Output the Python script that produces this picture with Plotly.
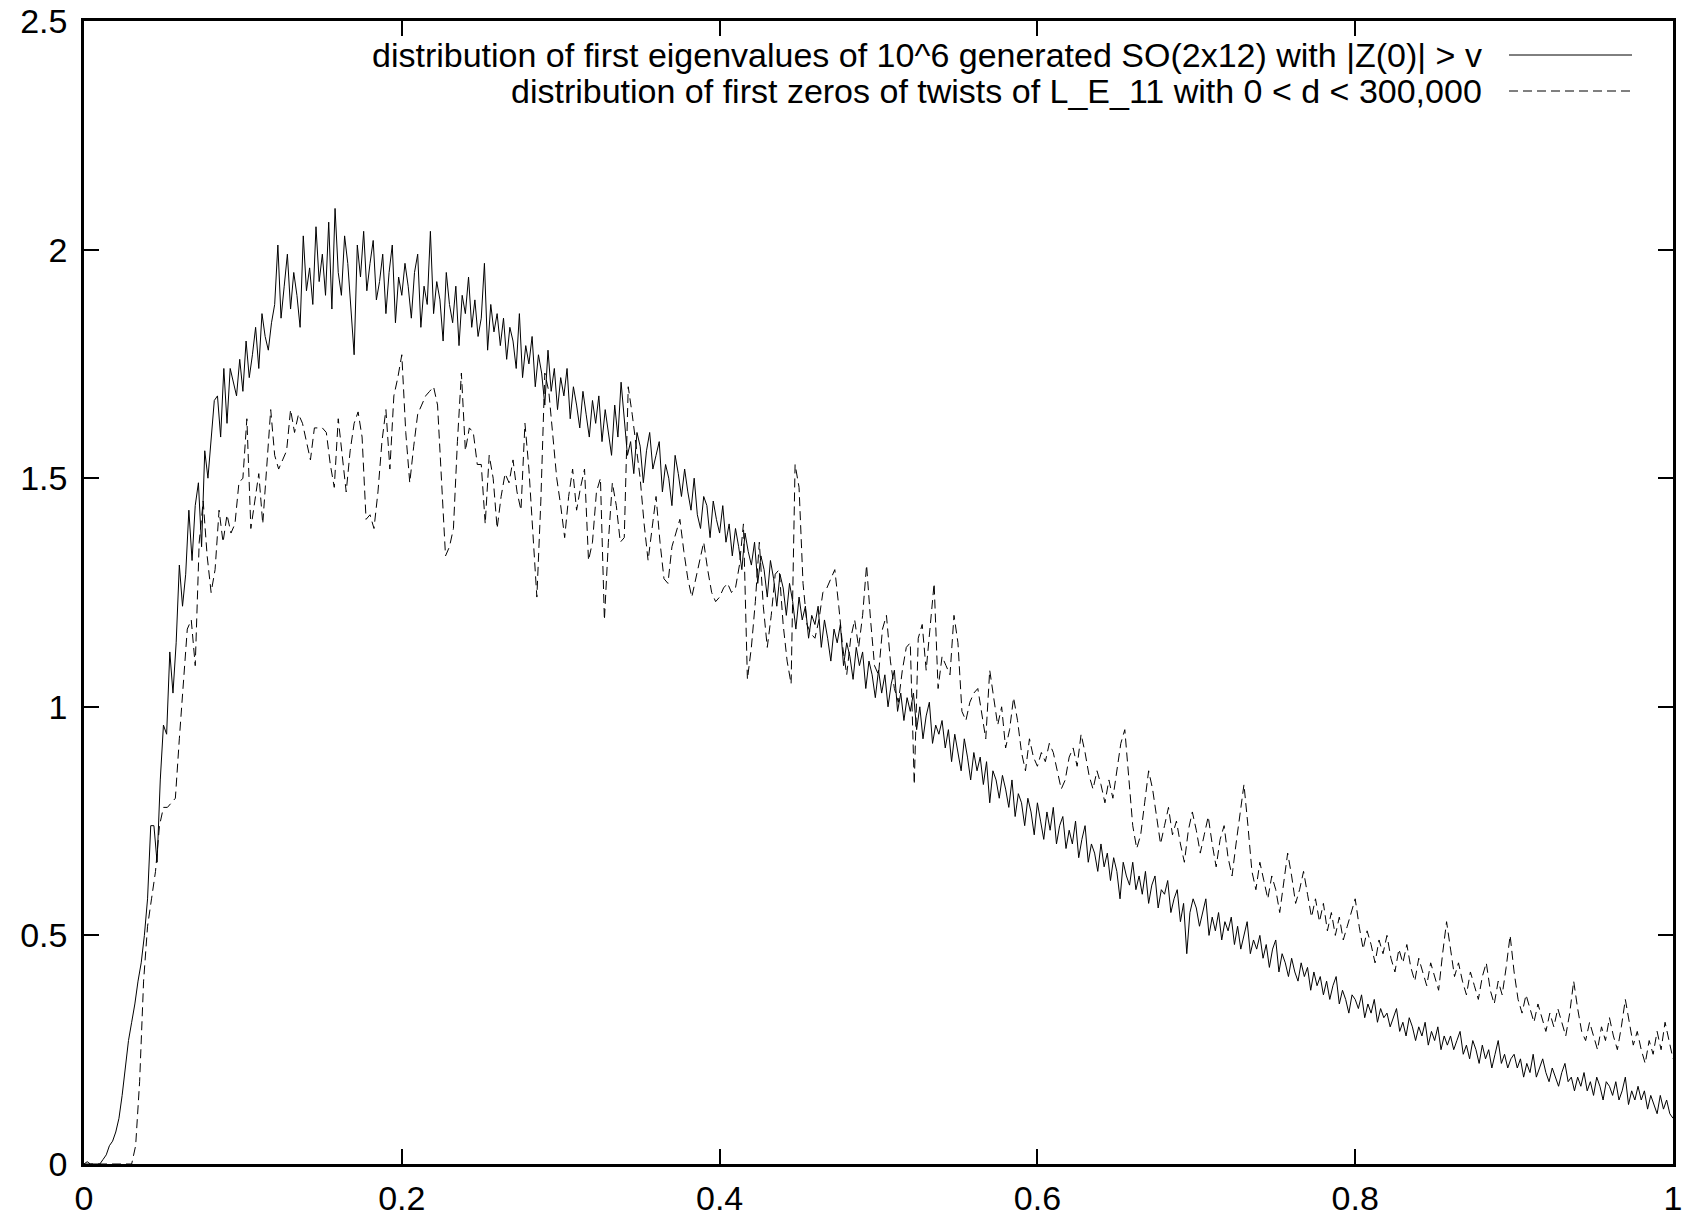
import plotly.graph_objects as go

# ---------------- data ----------------
# solid series: step 0.002 from 0 to 1 (10 values per row = 0.02)
so_step = 0.002
so_values = [
    0.00, 0.005, 0.00, 0.00, 0.00, 0.00, 0.01, 0.02, 0.04, 0.05,
    0.07, 0.10, 0.15, 0.21, 0.27, 0.31, 0.35, 0.40, 0.44, 0.50,
    0.58, 0.74, 0.74, 0.66, 0.84, 0.96, 0.94, 1.12, 1.03, 1.14,
    1.31, 1.22, 1.29, 1.43, 1.32, 1.44, 1.49, 1.35, 1.56, 1.50,
    1.58, 1.67, 1.68, 1.59, 1.74, 1.62, 1.74, 1.71, 1.68, 1.76,
    1.69, 1.80, 1.72, 1.77, 1.83, 1.74, 1.86, 1.81, 1.78, 1.84,
    1.88, 2.01, 1.85, 1.92, 1.99, 1.87, 1.95, 1.90, 1.83, 2.03,
    1.91, 1.96, 1.88, 2.05, 1.93, 1.99, 1.90, 2.06, 1.87, 2.09,
    1.95, 1.90, 2.03, 1.97, 1.88, 1.77, 2.01, 1.94, 2.04, 1.91,
    1.97, 2.02, 1.89, 1.93, 1.99, 1.86, 1.95, 2.01, 1.84, 1.94,
    1.90, 1.97, 1.92, 1.85, 1.95, 1.99, 1.83, 1.92, 1.88, 2.04,
    1.86, 1.93, 1.89, 1.80, 1.95, 1.88, 1.84, 1.92, 1.79, 1.90,
    1.86, 1.94, 1.83, 1.89, 1.81, 1.85, 1.97, 1.78, 1.88, 1.82,
    1.86, 1.79, 1.85, 1.76, 1.83, 1.80, 1.74, 1.86, 1.72, 1.79,
    1.75, 1.81, 1.70, 1.77, 1.73, 1.66, 1.78, 1.69, 1.74, 1.65,
    1.72, 1.68, 1.74, 1.63, 1.70, 1.66, 1.61, 1.69, 1.64, 1.59,
    1.67, 1.62, 1.68, 1.58, 1.65, 1.60, 1.55, 1.66, 1.59, 1.71,
    1.62, 1.55, 1.58, 1.51, 1.60, 1.57, 1.49, 1.56, 1.60, 1.52,
    1.55, 1.58, 1.47, 1.53, 1.50, 1.44, 1.55, 1.51, 1.46, 1.52,
    1.47, 1.43, 1.50, 1.42, 1.39, 1.46, 1.44, 1.37, 1.45, 1.41,
    1.38, 1.44, 1.36, 1.40, 1.33, 1.39, 1.35, 1.30, 1.38, 1.34,
    1.31, 1.36, 1.27, 1.33, 1.30, 1.24, 1.32, 1.28, 1.22, 1.29,
    1.26, 1.20, 1.27, 1.23, 1.17, 1.24, 1.19, 1.22, 1.15, 1.20,
    1.18, 1.22, 1.13, 1.19, 1.15, 1.10, 1.17, 1.14, 1.18, 1.09,
    1.14, 1.11, 1.06, 1.13, 1.09, 1.12, 1.04, 1.10, 1.07, 1.02,
    1.08, 1.03, 1.07, 1.00, 1.05, 1.08, 0.99, 1.03, 0.97, 1.02,
    0.99, 1.03, 0.95, 1.00, 0.93, 0.98, 1.01, 0.92, 0.96, 0.94,
    0.97, 0.91, 0.95, 0.88, 0.94, 0.90, 0.86, 0.93, 0.89, 0.84,
    0.90, 0.86, 0.89, 0.83, 0.88, 0.79, 0.86, 0.84, 0.80, 0.85,
    0.82, 0.78, 0.84, 0.76, 0.81, 0.79, 0.74, 0.80, 0.77, 0.72,
    0.79, 0.75, 0.71, 0.77, 0.73, 0.78, 0.70, 0.74, 0.76, 0.69,
    0.73, 0.70, 0.75, 0.67, 0.71, 0.74, 0.66, 0.70, 0.68, 0.64,
    0.70, 0.65, 0.68, 0.62, 0.67, 0.64, 0.58, 0.66, 0.63, 0.61,
    0.66, 0.60, 0.63, 0.59, 0.64, 0.57, 0.61, 0.63, 0.56, 0.60,
    0.59, 0.62, 0.55, 0.58, 0.60, 0.53, 0.57, 0.46, 0.55, 0.58,
    0.56, 0.52, 0.55, 0.58, 0.50, 0.54, 0.51, 0.55, 0.49, 0.53,
    0.51, 0.54, 0.48, 0.52, 0.47, 0.50, 0.53, 0.46, 0.49, 0.47,
    0.50, 0.45, 0.48, 0.43, 0.47, 0.49, 0.42, 0.46, 0.44, 0.41,
    0.45, 0.42, 0.40, 0.44, 0.41, 0.43, 0.38, 0.42, 0.39, 0.41,
    0.37, 0.40, 0.36, 0.39, 0.41, 0.35, 0.38, 0.36, 0.33, 0.37,
    0.36, 0.34, 0.37, 0.32, 0.35, 0.33, 0.36, 0.31, 0.34, 0.32,
    0.33, 0.30, 0.32, 0.34, 0.29, 0.31, 0.28, 0.32, 0.30, 0.27,
    0.30, 0.28, 0.31, 0.26, 0.29, 0.27, 0.30, 0.25, 0.28, 0.26,
    0.28, 0.25, 0.27, 0.29, 0.24, 0.26, 0.23, 0.27, 0.25, 0.22,
    0.26, 0.23, 0.25, 0.21, 0.24, 0.27, 0.22, 0.24, 0.21, 0.23,
    0.24, 0.21, 0.23, 0.19, 0.22, 0.20, 0.24, 0.19, 0.21, 0.23,
    0.20, 0.18, 0.21, 0.19, 0.17, 0.20, 0.22, 0.18, 0.19, 0.16,
    0.19, 0.17, 0.20, 0.16, 0.18, 0.15, 0.19, 0.17, 0.14, 0.18,
    0.17, 0.15, 0.18, 0.14, 0.16, 0.19, 0.13, 0.16, 0.14, 0.17,
    0.14, 0.16, 0.12, 0.15, 0.13, 0.11, 0.15, 0.12, 0.14, 0.11,
    0.10,
]

# dashed series: step 0.0025 from 0 to 1 (8 values per row = 0.02)
tw_step = 0.0025
tw_values = [
    0, 0, 0, 0, 0, 0, 0, 0,
    0, 0, 0, 0, 0.00, 0.04, 0.18, 0.40,
    0.52, 0.58, 0.64, 0.74, 0.78, 0.78, 0.79, 0.80,
    0.93, 1.06, 1.17, 1.19, 1.09, 1.36, 1.45, 1.33,
    1.25, 1.30, 1.43, 1.36, 1.42, 1.38, 1.40, 1.49,
    1.50, 1.63, 1.39, 1.45, 1.51, 1.40, 1.52, 1.65,
    1.55, 1.52, 1.54, 1.56, 1.65, 1.60, 1.64, 1.62,
    1.58, 1.54, 1.61, 1.61, 1.61, 1.60, 1.53, 1.48,
    1.63, 1.55, 1.47, 1.56, 1.62, 1.645, 1.59, 1.41,
    1.42, 1.39, 1.47, 1.58, 1.65, 1.52, 1.68, 1.72,
    1.77, 1.60, 1.49, 1.57, 1.64, 1.66, 1.68, 1.69,
    1.70, 1.66, 1.50, 1.33, 1.35, 1.39, 1.58, 1.73,
    1.56, 1.61, 1.60, 1.53, 1.53, 1.40, 1.55, 1.50,
    1.39, 1.46, 1.51, 1.49, 1.54, 1.47, 1.43, 1.62,
    1.52, 1.38, 1.24, 1.45, 1.73, 1.69, 1.60, 1.50,
    1.44, 1.37, 1.46, 1.52, 1.43, 1.48, 1.52, 1.32,
    1.36, 1.47, 1.50, 1.19, 1.36, 1.49, 1.44, 1.36,
    1.37, 1.70, 1.64, 1.57, 1.50, 1.40, 1.32, 1.39,
    1.46, 1.36, 1.28, 1.27, 1.35, 1.38, 1.41, 1.34,
    1.28, 1.24, 1.28, 1.32, 1.36, 1.30, 1.25, 1.23,
    1.24, 1.26, 1.27, 1.25, 1.26, 1.31, 1.40, 1.06,
    1.13, 1.23, 1.36, 1.22, 1.13, 1.20, 1.29, 1.30,
    1.18, 1.10, 1.05, 1.53, 1.48, 1.27, 1.18, 1.16,
    1.15, 1.19, 1.25, 1.26, 1.28, 1.30, 1.22, 1.13,
    1.07, 1.15, 1.19, 1.13, 1.20, 1.31, 1.19, 1.09,
    1.07, 1.17, 1.20, 1.10, 1.04, 1.01, 1.08, 1.13,
    1.14, 0.83, 1.15, 1.18, 1.08, 1.17, 1.27, 1.04,
    1.11, 1.09, 1.07, 1.20, 1.14, 0.99, 0.97, 1.01,
    1.03, 1.04, 0.98, 0.93, 1.08, 1.02, 0.96, 1.00,
    0.91, 0.95, 1.02, 0.97, 0.90, 0.86, 0.93, 0.89,
    0.87, 0.90, 0.88, 0.92, 0.90, 0.86, 0.82, 0.84,
    0.89, 0.91, 0.87, 0.94, 0.90, 0.85, 0.82, 0.86,
    0.83, 0.79, 0.84, 0.80, 0.86, 0.92, 0.95, 0.85,
    0.74, 0.69, 0.72, 0.79, 0.86, 0.82, 0.76, 0.70,
    0.74, 0.78, 0.72, 0.75, 0.70, 0.66, 0.73, 0.77,
    0.73, 0.68, 0.72, 0.76, 0.70, 0.65, 0.71, 0.74,
    0.67, 0.63, 0.70, 0.76, 0.83, 0.74, 0.64, 0.60,
    0.66, 0.62, 0.58, 0.63, 0.60, 0.55, 0.61, 0.68,
    0.63, 0.57, 0.60, 0.64, 0.59, 0.54, 0.58, 0.53,
    0.57, 0.51, 0.55, 0.50, 0.54, 0.49, 0.52, 0.55,
    0.58, 0.52, 0.47, 0.51, 0.48, 0.44, 0.49, 0.46,
    0.50, 0.45, 0.42, 0.47, 0.44, 0.48, 0.43, 0.40,
    0.45, 0.42, 0.39, 0.44, 0.41, 0.38, 0.46, 0.53,
    0.47, 0.41, 0.44, 0.40, 0.37, 0.42, 0.39, 0.36,
    0.41, 0.44, 0.38, 0.35, 0.40, 0.37, 0.43, 0.50,
    0.42, 0.36, 0.33, 0.37, 0.34, 0.31, 0.35, 0.32,
    0.29, 0.33, 0.30, 0.34, 0.31, 0.28, 0.33, 0.40,
    0.34, 0.29, 0.27, 0.31, 0.28, 0.25, 0.30, 0.27,
    0.32, 0.28, 0.25, 0.30, 0.36, 0.31, 0.26, 0.29,
    0.25, 0.22, 0.27, 0.24, 0.29, 0.25, 0.31, 0.27,
    0.23,
]

so_label = "distribution of first eigenvalues of 10^6 generated SO(2x12) with |Z(0)| > v"
tw_label = "distribution of first zeros of twists of L_E_11 with 0 < d < 300,000"

x_tickvals = [0, 0.2, 0.4, 0.6, 0.8, 1]
x_ticktext = ["0", "0.2", "0.4", "0.6", "0.8", "1"]
y_tickvals = [0, 0.5, 1, 1.5, 2, 2.5]
y_ticktext = ["0", "0.5", "1", "1.5", "2", "2.5"]

so_x = [round(i * so_step, 4) for i in range(len(so_values))]
tw_x = [round(i * tw_step, 4) for i in range(len(tw_values))]

# ---------------- figure ----------------
FONT = "Liberation Sans, Arial, Helvetica, sans-serif"
DASH = "9px,5px"

fig = go.Figure()
fig.add_trace(go.Scatter(x=so_x, y=so_values, mode="lines", name=so_label,
                         line=dict(color="black", width=1), showlegend=False))
fig.add_trace(go.Scatter(x=tw_x, y=tw_values, mode="lines", name=tw_label,
                         line=dict(color="black", width=1, dash=DASH), showlegend=False))

W, H = 1687, 1218
ML, MR, MT, MB = 84, 14, 21, 54
pw, ph = W - ML - MR, H - MT - MB

def px(xp):
    return (xp - ML) / pw

def py(yp):
    return (H - MB - yp) / ph

# custom legend (text right-aligned, sample line to the right)
legend_rows = [(so_label, "solid", 55), (tw_label, DASH, 91)]
for label, dash, ypix in legend_rows:
    fig.add_annotation(x=px(1484), y=py(ypix), xref="paper", yref="paper",
                       text=label, showarrow=False, xanchor="right", yanchor="middle",
                       font=dict(family=FONT, size=34, color="black"))
    fig.add_shape(type="line", xref="paper", yref="paper",
                  x0=px(1509), x1=px(1632), y0=py(ypix), y1=py(ypix),
                  line=dict(color="black", width=1, dash=dash))

axis_common = dict(showline=True, linecolor="black", linewidth=2.5, mirror="ticks",
                   ticks="inside", ticklen=15, tickwidth=2, tickcolor="black",
                   showgrid=False, zeroline=False, automargin=False,
                   tickfont=dict(family=FONT, size=34, color="black"))

fig.update_xaxes(range=[0, 1], tickvals=x_tickvals, ticktext=x_ticktext,
                 ticklabelstandoff=2, **axis_common)
fig.update_yaxes(range=[0, 2.5], tickvals=y_tickvals, ticktext=y_ticktext,
                 ticklabelstandoff=7, **axis_common)

fig.update_layout(width=W, height=H, margin=dict(l=ML, r=MR, t=MT, b=MB, autoexpand=False),
                  plot_bgcolor="white", paper_bgcolor="white", showlegend=False,
                  font=dict(family=FONT, color="black"))

fig.write_html("out.html")
